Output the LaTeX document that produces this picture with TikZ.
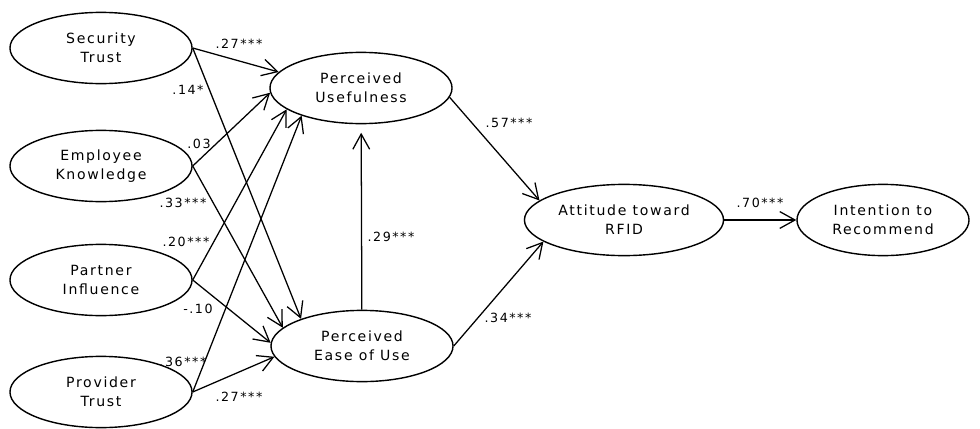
\documentclass[tikz,border=0pt]{standalone}
\usepackage{fontspec}
\setmainfont{DejaVu Sans}
\usetikzlibrary{shapes.geometric,arrows.meta}

\tikzset{
  latent/.style={draw,ellipse,line width=1pt,minimum width=4.55cm,minimum height=1.78cm,
    align=center,font=\fontsize{10}{13.5}\selectfont\addfontfeature{LetterSpace=12}},
  effect/.style={line width=0.9pt,-{Straight Barb[length=3.8mm,width=4.2mm]}},
  coef/.style={inner sep=0pt,font=\fontsize{9}{10}\selectfont\addfontfeature{LetterSpace=12}}
}

\begin{document}
\begin{tikzpicture}[x=0.025cm,y=-0.025cm]
    \useasboundingbox (0,0) rectangle (980,428);
    % antecedents
    \foreach \name/\y/\txt in {sec/48/{Security\\Trust},emp/166/{Employee\\Knowledge},par/280/{Partner\\Influence},pro/392/{Provider\\Trust}}
        \node[latent] (\name) at (101,\y) {\txt};
    % mediators and outcomes
    \node[latent] (pu) at (361,88) {Perceived\\Usefulness};
    \node[latent] (peou) at (362,346) {Perceived\\Ease of Use};
    \node[latent,minimum width=4.93cm] (att) at (624,220) {Attitude toward\\RFID};
    \node[latent,minimum width=4.3cm] (int) at (883,220) {Intention to\\Recommend};

    \draw[effect] (sec.east) -- (pu.169);
    \draw[effect] (sec.east) -- (peou.156);
    \draw[effect] (emp.east) -- (pu.183);
    \draw[effect] (emp.east) -- (peou.167);
    \draw[effect] (par.east) -- (pu.196);
    \draw[effect] (par.east) -- (peou.178);
    \draw[effect] (pro.east) -- (pu.205);
    \draw[effect] (pro.east) -- (peou.187);
    \draw[effect,shorten >=6pt] (peou) -- (pu);
    \draw[effect] (pu.354) -- (att.167);
    \draw[effect] (peou.east) -- (att.195);
    \draw[effect] (att.east) -- (int.west);

    % path coefficients
    \node[coef] at (239,44) {.27***};
    \node[coef] at (188,90) {.14*};
    \node[coef] at (199,144) {.03};
    \node[coef] at (183,203) {.33***};
    \node[coef] at (186,242) {.20***};
    \node[coef] at (198,309) {-.10};
    \node[coef] at (183,362) {.36***};
    \node[coef] at (239,397) {.27***};
    \node[coef] at (391,237) {.29***};
    \node[coef] at (509,123) {.57***};
    \node[coef] at (508,318) {.34***};
    \node[coef] at (760,203) {.70***};
\end{tikzpicture}
\end{document}
